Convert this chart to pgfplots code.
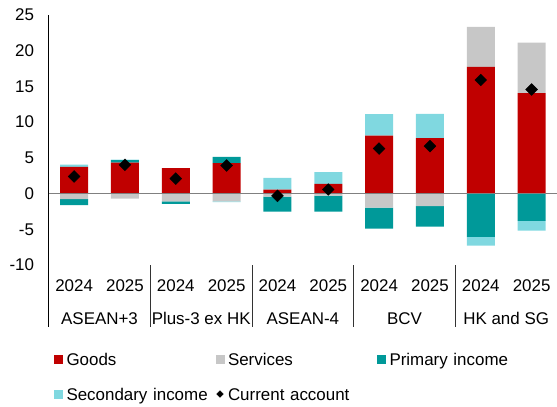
\documentclass[border=0pt]{standalone}
\usepackage{pgfplots}
\usepackage{pgfplotstable}
\pgfplotsset{compat=1.18}
\usepackage{fontspec}
\setmainfont{Liberation Sans}
\definecolor{goods}{RGB}{192,0,0}
\definecolor{services}{RGB}{199,199,199}
\definecolor{primary}{RGB}{0,153,153}
\definecolor{secondary}{RGB}{128,216,224}

% positive components
\pgfplotstableread{
x goods services primary secondary
0 3.75 0    0    0.30
1 4.34 0    0.33 0.09
2 3.57 0    0    0
3 4.27 0    0.88 0
4 0.57 0    0    1.63
5 1.36 0    0    1.64
6 8.12 0    0    3.00
7 7.76 0    0    3.40
8 17.75 5.60 0   0
9 14.06 7.09 0   0
}\postable

% negative components
\pgfplotstableread{
x services primary secondary
0 -0.78 -0.84 0
1 -0.70 0     0
2 -1.10 -0.35 0
3 -1.10 0     -0.10
4 -0.42 -2.10 0
5 -0.30 -2.22 0
6 -1.96 -2.94 0
7 -1.76 -2.86 0
8 0     -6.07 -1.21
9 0     -3.83 -1.35
}\negtable

% current account
\pgfplotstableread{
x ca
0 2.40
1 4.03
2 2.10
3 3.93
4 -0.32
5 0.57
6 6.30
7 6.64
8 15.90
9 14.57
}\catable

\pgfplotsset{
  base/.style={scale only axis, width=508.3bp, height=250bp,
    xmin=-0.5, xmax=9.5, ymin=-10, ymax=25, at={(0,0)}, anchor=south west,
    font=\fontsize{17}{20}\selectfont, clip=false},
  sq/.style={legend image code/.code={\fill[##1] (0bp,-4.5bp) rectangle (9bp,4.5bp);}},
  dia/.style={legend image code/.code={\draw[##1, mark size=2.3bp] plot coordinates {(4.5bp,0bp)};}},
}

\begin{document}
\begin{tikzpicture}
\useasboundingbox (-48.7bp,-142bp) rectangle (508.3bp,265bp);

% Axis 1: positive stacks, y axis, labels
\begin{axis}[base, ybar stacked, bar width=28bp,
  axis lines*=left, x axis line style={draw=none},
  y axis line style={line width=0.8bp, black},
  ytick={-10,-5,...,25}, xtick={0,...,9},
  xticklabels={2024,2025,2024,2025,2024,2025,2024,2025,2024,2025},
  major tick length=0pt,
  /pgf/number format/assume math mode=true,
  yticklabel style={anchor=east, inner sep=0pt, xshift=-14.5bp},
  xticklabel style={anchor=base, inner sep=0pt, yshift=-26bp},
]
\addplot[fill=goods, draw=none] table[x=x,y=goods]{\postable};
\addplot[fill=services, draw=none] table[x=x,y=services]{\postable};
\addplot[fill=primary, draw=none] table[x=x,y=primary]{\postable};
\addplot[fill=secondary, draw=none] table[x=x,y=secondary]{\postable};
\draw[line width=0.8bp, black] (rel axis cs:0,0) -- ++(0pt,-62bp);
\draw[line width=0.8bp, black!80] (axis cs:1.5,-10) -- ++(0pt,-62bp);
\draw[line width=0.8bp, black!80] (axis cs:3.5,-10) -- ++(0pt,-62bp);
\draw[line width=0.8bp, black!80] (axis cs:5.5,-10) -- ++(0pt,-62bp);
\draw[line width=0.8bp, black!80] (axis cs:7.5,-10) -- ++(0pt,-62bp);
\node[anchor=base, inner sep=0pt, yshift=-59bp] at (axis cs:0.5,-10) {ASEAN+3};
\node[anchor=base, inner sep=0pt, yshift=-59bp] at (axis cs:2.5,-10) {Plus-3 ex HK};
\node[anchor=base, inner sep=0pt, yshift=-59bp] at (axis cs:4.5,-10) {ASEAN-4};
\node[anchor=base, inner sep=0pt, yshift=-59bp] at (axis cs:6.5,-10) {BCV};
\node[anchor=base, inner sep=0pt, yshift=-59bp] at (axis cs:8.5,-10) {HK and SG};
\end{axis}

% Axis 2: negative stacks
\begin{axis}[base, hide axis, ybar stacked, bar width=28bp]
\addplot[fill=services, draw=none] table[x=x,y=services]{\negtable};
\addplot[fill=primary, draw=none] table[x=x,y=primary]{\negtable};
\addplot[fill=secondary, draw=none] table[x=x,y=secondary]{\negtable};
\end{axis}

% Axis 3: zero line, current account, legend
\begin{axis}[base, hide axis,
  legend columns=3, legend cell align=left,
  legend style={at={(rel axis cs:0,0)}, anchor=north west, xshift=5.3bp, yshift=-86bp,
    draw=none, fill=none, inner sep=0pt, outer sep=0pt, row sep=19bp, column sep=0pt,
    font=\fontsize{17}{20}\selectfont,
    /tikz/every odd column/.append style={column sep=3.5bp},
    /tikz/every even column/.append style={text width=149bp},
    nodes={inner sep=0pt, text height=14bp, text depth=2bp}},
]
\draw[line width=1.5bp, black!50] (axis cs:-0.5,0) -- (axis cs:9.5,0);
\addlegendimage{sq, fill=goods, draw=none}
\addlegendentry{Goods}
\addlegendimage{sq, fill=services, draw=none}
\addlegendentry{Services}
\addlegendimage{sq, fill=primary, draw=none}
\addlegendentry{Primary income}
\addlegendimage{sq, fill=secondary, draw=none}
\addlegendentry{Secondary income}
\addplot[only marks, mark=square*, mark size=4.2bp, black,
  mark options={rotate=45, fill=black, draw=black}, dia]
  table[x=x,y=ca]{\catable};
\addlegendentry{Current account}
\end{axis}
\end{tikzpicture}
\end{document}
